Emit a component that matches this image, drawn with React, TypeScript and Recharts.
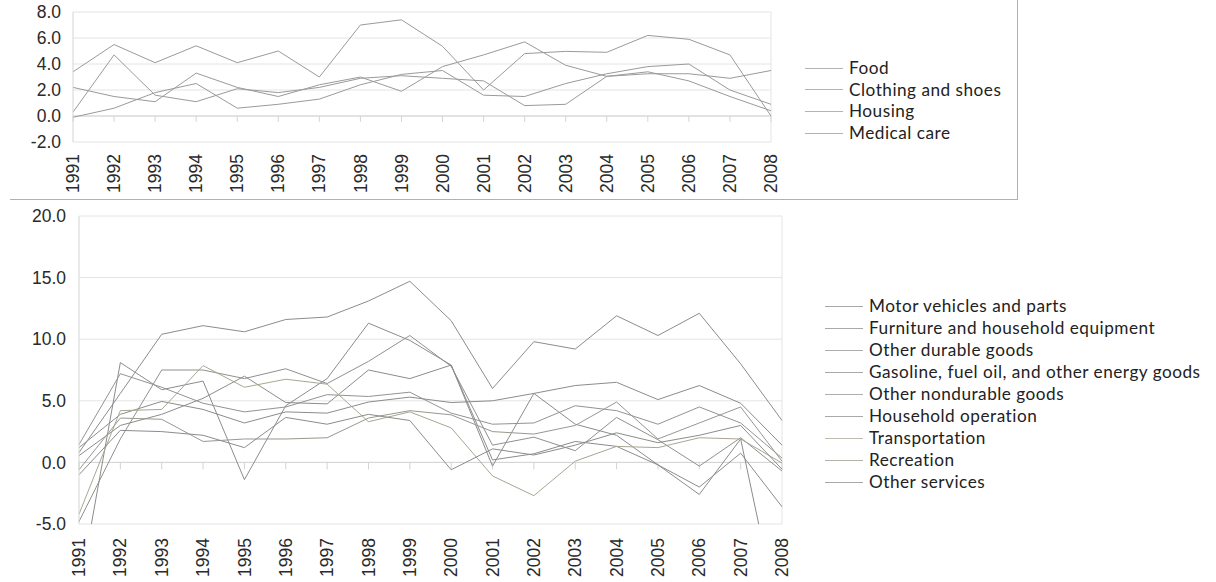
import React from 'react';
import { LineChart, Line, XAxis, YAxis, CartesianGrid, ReferenceLine } from 'recharts';

// ---------- categories ----------
const years = ['1991','1992','1993','1994','1995','1996','1997','1998','1999','2000','2001','2002','2003','2004','2005','2006','2007','2008'];

// ---------- top panel series ----------
const food = [-0.1, 0.6, 1.8, 2.5, 0.6, 0.9, 1.3, 2.4, 3.2, 3.5, 1.6, 1.5, 2.5, 3.25, 3.8, 4.0, 2.0, 0.9];
const clothing = [0.3, 4.7, 1.6, 1.1, 2.1, 1.8, 2.2, 2.9, 3.1, 2.9, 2.7, 0.8, 0.9, 3.05, 3.25, 3.25, 2.9, 3.5];
const housing = [2.2, 1.5, 1.1, 3.3, 2.2, 1.5, 2.4, 3.0, 1.9, 3.8, 4.7, 5.7, 3.9, 3.05, 3.4, 2.7, 1.5, 0.4];
const medical = [3.4, 5.5, 4.1, 5.4, 4.1, 5.0, 3.0, 7.0, 7.4, 5.36, 2.0, 4.8, 4.97, 4.9, 6.2, 5.9, 4.7, 0.0];

const topTicks = [-2, 0, 2, 4, 6, 8];

// ---------- bottom panel series ----------
const motorVehicles = [-10.6, 8.1, 5.9, 6.6, -1.4, 4.6, 6.8, 11.3, 9.9, 7.9, -0.3, 5.6, 3.1, 2.2, -0.2, -2.6, 1.9, -13.9];
const furniture = [0.8, 5.6, 10.4, 11.1, 10.6, 11.6, 11.8, 13.1, 14.7, 11.5, 6.0, 9.8, 9.2, 11.9, 10.3, 12.1, 8.0, 3.4];
const otherDurable = [-4.8, 1.9, 7.5, 7.5, 6.8, 7.6, 6.4, 8.2, 10.3, 7.8, 1.4, 2.05, 0.95, 3.65, 1.84, -0.3, 2.0, -0.7];
const gasoline = [0.55, 3.0, 3.9, 5.2, 7.0, 4.86, 4.75, 7.5, 6.8, 7.9, 0.2, 0.7, 1.7, 1.3, -0.2, -2.0, 0.75, -3.6];
const otherNondurable = [1.45, 7.2, 6.1, 4.8, 4.1, 4.5, 5.5, 5.35, 5.7, 4.0, 3.1, 3.2, 4.6, 4.2, 3.1, 4.5, 3.2, 0.35];
const householdOperation = [1.2, 3.9, 4.95, 4.3, 3.2, 4.1, 4.0, 4.9, 5.3, 4.86, 5.0, 5.6, 6.24, 6.5, 5.1, 6.24, 4.8, 1.4];
const transportation = [-4.2, 4.2, 4.3, 7.86, 6.1, 6.75, 6.35, 3.3, 4.1, 2.8, -1.1, -2.7, 0.1, 1.3, 1.2, 2.0, 1.9, -0.05];
const recreation = [-0.6, 3.6, 3.5, 1.7, 1.9, 1.9, 2.0, 3.6, 4.2, 3.86, 2.5, 2.3, 3.0, 4.9, 1.9, 3.2, 4.5, 0.1];
const otherServices = [-1.0, 2.6, 2.5, 2.2, 1.2, 3.65, 3.1, 3.9, 3.4, -0.6, 1.1, 0.6, 1.4, 2.4, 1.6, 2.2, 3.0, -0.55];

const bottomTicks = [-5, 0, 5, 10, 15, 20];

// ---------- series tables ----------
const topSeries = [
  { key: 'food', name: 'Food', values: food, color: '#9a9a9a' },
  { key: 'clothing', name: 'Clothing and shoes', values: clothing, color: '#9a9a9a' },
  { key: 'housing', name: 'Housing', values: housing, color: '#9a9a9a' },
  { key: 'medical', name: 'Medical care', values: medical, color: '#9a9a9a' },
];

const bottomSeries = [
  { key: 'mv', name: 'Motor vehicles and parts', values: motorVehicles, color: '#8c8c8c' },
  { key: 'fur', name: 'Furniture and household equipment', values: furniture, color: '#8c8c8c' },
  { key: 'odg', name: 'Other durable goods', values: otherDurable, color: '#909090' },
  { key: 'gas', name: 'Gasoline, fuel oil, and other energy goods', values: gasoline, color: '#8c8c8c' },
  { key: 'ondg', name: 'Other nondurable goods', values: otherNondurable, color: '#939393' },
  { key: 'ho', name: 'Household operation', values: householdOperation, color: '#8c8c8c' },
  { key: 'tr', name: 'Transportation', values: transportation, color: '#aaa592' },
  { key: 'rec', name: 'Recreation', values: recreation, color: '#98988f' },
  { key: 'os', name: 'Other services', values: otherServices, color: '#8c8c8c' },
];

const topData = years.map((year, i) => {
  const row: any = { year };
  topSeries.forEach(s => { row[s.key] = s.values[i]; });
  return row;
});
const bottomData = years.map((year, i) => {
  const row: any = { year };
  bottomSeries.forEach(s => { row[s.key] = s.values[i]; });
  return row;
});

const AXIS_FONT = '"Liberation Sans", Arial, sans-serif';
const LEGEND_FONT = 'Lato, "Noto Sans", sans-serif';
const AXIS_SIZE = 17.5;

const XTick = (props: any) => {
  const { x, y, payload } = props;
  return (
    <text
      x={x}
      y={y}
      transform={`rotate(-90 ${x} ${y})`}
      textAnchor="end"
      dy="0.35em"
      fontSize={AXIS_SIZE}
      fill="#2a2a2a"
      fontFamily={AXIS_FONT}
    >
      {payload.value}
    </text>
  );
};

const Legend = ({ items, left, top, step }: any) => (
  <>
    {items.map((s: any, i: number) => (
      <div
        key={s.key}
        style={{
          position: 'absolute',
          left,
          top: top + i * step,
          height: 20,
          display: 'flex',
          alignItems: 'center',
          whiteSpace: 'nowrap',
        }}
      >
        <div style={{ width: 38, height: 0, borderTop: `1px solid ${s.color}`, opacity: 0.75 }} />
        <span
          style={{
            marginLeft: 6,
            fontFamily: LEGEND_FONT,
            fontSize: 17.2,
            letterSpacing: '0.5px',
            color: '#222',
            lineHeight: '20px',
          }}
        >
          {s.name}
        </span>
      </div>
    ))}
  </>
);

export default function App() {
  return (
    <div style={{ position: 'absolute', left: 0, top: 0, width: 1216, height: 582, background: '#fff', overflow: 'hidden' }}>
      {/* top frame */}
      <div style={{ position: 'absolute', left: 10, top: 0, width: 1007, height: 199, borderRight: '1px solid #aab3b9', borderBottom: '1px solid #aab3b9' }} />
      <div style={{ position: 'absolute', left: 0, top: 0 }}>
        <LineChart width={1017} height={197} data={topData} margin={{ top: 12, right: 246, bottom: 0, left: 0 }}>
          <CartesianGrid vertical={false} stroke="#e4e4e4" />
          <XAxis
            dataKey="year"
            type="category"
            interval={0}
            height={55}
            tickSize={0}
            tickMargin={12}
            axisLine={false}
            tickLine={false}
            tick={<XTick />}
          />
          <YAxis
            type="number"
            domain={[-2, 8]}
            ticks={topTicks}
            allowDataOverflow
            width={73}
            tickSize={0}
            tickMargin={12}
            tickLine={false}
            axisLine={{ stroke: '#d4d4d4' }}
            tickFormatter={(v: number) => v.toFixed(1)}
            tick={{ fontSize: AXIS_SIZE, fill: '#2a2a2a', fontFamily: AXIS_FONT }}
          />
          <ReferenceLine x="2008" stroke="#e4e4e4" />
          <ReferenceLine y={0} stroke="#d4d4d4" />
          {years.map(yr => (
            <ReferenceLine key={'t' + yr} segment={[{ x: yr, y: 0 }, { x: yr, y: -0.45 }]} stroke="#d4d4d4" />
          ))}
          {topSeries.map(s => (
            <Line key={s.key} type="linear" dataKey={s.key} name={s.name} stroke={s.color} strokeWidth={1} dot={false} isAnimationActive={false} />
          ))}
        </LineChart>
      </div>
      <Legend items={topSeries} left={805} top={58} step={21.7} />

      <div style={{ position: 'absolute', left: 0, top: 200 }}>
        <LineChart width={1216} height={382} data={bottomData} margin={{ top: 16, right: 434, bottom: 0, left: 0 }}>
          <CartesianGrid vertical={false} stroke="#e4e4e4" />
          <XAxis
            dataKey="year"
            type="category"
            interval={0}
            height={58}
            tickSize={0}
            tickMargin={14}
            axisLine={false}
            tickLine={false}
            tick={<XTick />}
          />
          <YAxis
            type="number"
            domain={[-5, 20]}
            ticks={bottomTicks}
            allowDataOverflow
            width={79}
            tickSize={0}
            tickMargin={13}
            tickLine={false}
            axisLine={{ stroke: '#d4d4d4' }}
            tickFormatter={(v: number) => v.toFixed(1)}
            tick={{ fontSize: AXIS_SIZE, fill: '#2a2a2a', fontFamily: AXIS_FONT }}
          />
          <ReferenceLine x="2008" stroke="#e4e4e4" />
          <ReferenceLine y={0} stroke="#d4d4d4" />
          {years.map(yr => (
            <ReferenceLine key={'b' + yr} segment={[{ x: yr, y: 0 }, { x: yr, y: -0.57 }]} stroke="#d4d4d4" />
          ))}
          {bottomSeries.map(s => (
            <Line key={s.key} type="linear" dataKey={s.key} name={s.name} stroke={s.color} strokeWidth={1} dot={false} isAnimationActive={false} />
          ))}
        </LineChart>
      </div>
      <Legend items={bottomSeries} left={825} top={296} step={22} />
    </div>
  );
}
